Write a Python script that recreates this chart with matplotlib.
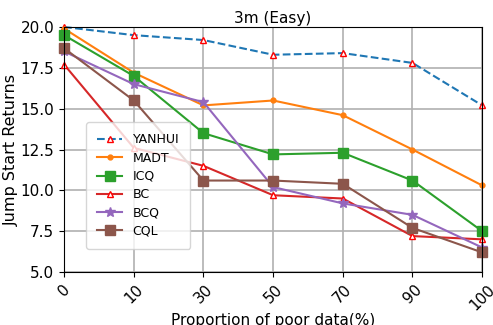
import matplotlib
matplotlib.use("Agg")
import matplotlib.pyplot as plt
import numpy as np

# proportion of poor data, plotted as categories
x_labels = ["0", "10", "30", "50", "70", "90", "100"]

yanhui = [20.0, 19.5, 19.2, 18.3, 18.4, 17.8, 15.2]
madt = [19.9, 17.2, 15.2, 15.5, 14.6, 12.5, 10.3]
icq = [19.5, 17.0, 13.5, 12.2, 12.3, 10.6, 7.5]
bc = [17.7, 12.6, 11.5, 9.7, 9.5, 7.2, 7.0]
bcq = [18.5, 16.5, 15.4, 10.2, 9.2, 8.5, 6.5]
cql = [18.7, 15.5, 10.6, 10.6, 10.4, 7.7, 6.2]

x = np.arange(len(x_labels))

fig, ax = plt.subplots(figsize=(4.93, 3.25), dpi=100)
fig.subplots_adjust(left=0.13, right=0.978, top=0.917, bottom=0.163)

ax.plot(x, yanhui, "--", color="tab:blue", marker="^", markersize=5,
        markerfacecolor="white", markeredgecolor="red", label="YANHUI", clip_on=False)
ax.plot(x, madt, "-", color="tab:orange", marker=".", markersize=7,
        label="MADT", clip_on=False)
ax.plot(x, icq, "-", color="tab:green", marker="s", markersize=7,
        label="ICQ", clip_on=False)
ax.plot(x, bc, "-", color="tab:red", marker="^", markersize=5,
        markerfacecolor="white", markeredgecolor="red", label="BC", clip_on=False)
ax.plot(x, bcq, "-", color="tab:purple", marker="*", markersize=7,
        label="BCQ", clip_on=False)
ax.plot(x, cql, "-", color="tab:brown", marker="s", markersize=7,
        label="CQL", clip_on=False)

ax.set_xlim(0, 6)
ax.set_ylim(5, 20)
ax.set_xticks(x)
ax.set_xticklabels(x_labels, rotation=45, fontsize=11)
ax.set_yticks([5.0, 7.5, 10.0, 12.5, 15.0, 17.5, 20.0])
ax.set_yticklabels(["5.0", "7.5", "10.0", "12.5", "15.0", "17.5", "20.0"], fontsize=11)
ax.grid(True, color="#b0b0b0", linewidth=1.2)
ax.set_axisbelow(True)

ax.set_title("3m (Easy)", fontsize=11, pad=3)
ax.set_xlabel("Proportion of poor data(%)", fontsize=11, labelpad=0)
ax.set_ylabel("Jump Start Returns", fontsize=11.5, labelpad=1)

ax.legend(loc="lower left", bbox_to_anchor=(0.053, 0.094), borderaxespad=0,
          fontsize=9, framealpha=0.8, borderpad=0.9, labelspacing=0.42)

fig.savefig("out.png")
